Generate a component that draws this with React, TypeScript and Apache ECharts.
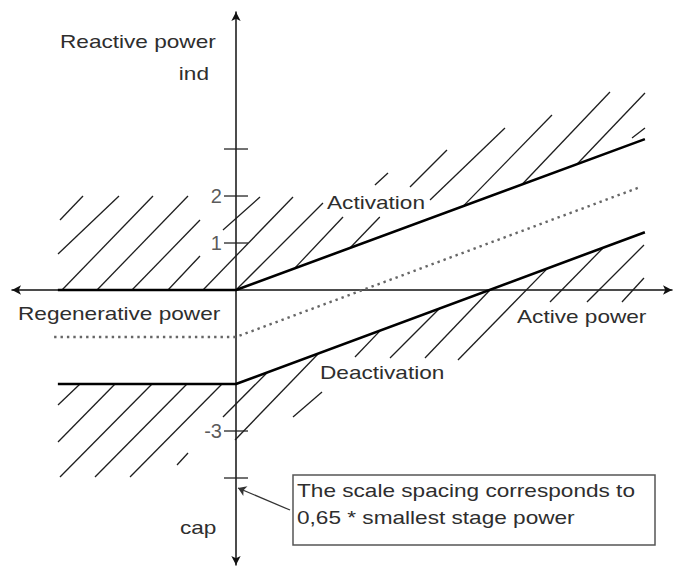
import React, { useEffect, useRef } from "react";
import * as echarts from "echarts";

// Axis ranges (units of the scale spacing)
const xRange = [-4.766, 9.277];
const yRange = [-5.851, 5.915];

// Axis tick marks on the reactive-power axis and their labels
const tickValues = [3, 2, 1, -3, -4];
const tickLabels = ["", "2", "1", "-3", ""];

// Switching characteristics
const activationLine = [[-3.79, 0], [0, 0], [8.7, 3.21]];
const midLine = [[-3.87, -1], [0, -1], [8.6, 2.19]];
const deactivationLine = [[-3.79, -2], [0, -2], [8.7, 1.23]];

// Hatching segments [x1, y1, x2, y2]
const hatchUpper = [
  [-3.745, 1.489, -3.255, 2.0],
  [-3.787, 0.766, -2.489, 2.0],
  [-3.702, 0, -1.766, 2.0],
  [-2.957, 0, -1.021, 2.0],
  [-2.213, 0, -0.766, 1.489],
  [-1.447, 0, -0.766, 0.723],
  [-0.702, 0, 1.213, 1.979],
  [-0.277, 1.277, 0.511, 1.979],
  [0.021, 0.02, 1.851, 1.851],
  [1.255, 0.47, 2.277, 1.553],
  [2.43, 0.9, 3.06, 1.553],
  [2.957, 2.234, 3.234, 2.489],
  [3.702, 2.191, 4.489, 2.979],
  [4.128, 1.915, 5.723, 3.447],
  [4.83, 1.78, 6.723, 3.723],
  [6.085, 2.245, 7.957, 4.213],
  [7.255, 2.677, 8.702, 4.191],
  [8.426, 3.234, 8.702, 3.447],
];
const hatchLower = [
  [-3.787, -2.447, -3.319, -2.0],
  [-3.787, -3.234, -2.574, -2.0],
  [-3.745, -3.979, -1.787, -2.0],
  [-3.0, -3.979, -1.043, -2.0],
  [-2.255, -3.979, -0.298, -2.0],
  [-1.255, -3.723, -1.021, -3.468],
  [-0.277, -2.702, 0.66, -1.76],
  [-0.021, -3.191, 1.745, -1.36],
  [1.213, -2.702, 1.83, -2.17],
  [2.532, -1.426, 3.064, -0.87],
  [3.277, -1.447, 4.34, -0.383],
  [4.021, -1.447, 5.404, 0],
  [4.723, -1.489, 6.617, 0.45],
  [6.681, -0.255, 7.809, 0.894],
  [7.468, -0.255, 8.681, 0.957],
  [8.213, -0.255, 8.681, 0.255],
];

// Pointer from the note box to the axis tick
const notePointer = [[1.149, -4.681], [0.043, -4.213]];

const FONT = "'Liberation Sans', Arial, sans-serif";
const TXT = "#2e2e2e";
const SX = 1.19;

export default function App() {
  const ref = useRef<HTMLDivElement>(null);
  useEffect(() => {
    if (!ref.current) return;
    const chart = echarts.init(ref.current, undefined, { renderer: "svg" });
    const txt = (text: string, x: number, y: number, align = "left", size = 19) => ({
      type: "text",
      x,
      y,
      scaleX: SX,
      style: { text, fontSize: size, fontFamily: FONT, fill: TXT, align, verticalAlign: "middle" },
    });
    const hatchData = [...hatchUpper, ...hatchLower].map((s) => ({
      coords: [[s[0], s[1]], [s[2], s[3]]],
    }));
    chart.setOption({
      animation: false,
      backgroundColor: "#ffffff",
      grid: { left: 12, top: 12, width: 660, height: 553, containLabel: false },
      xAxis: {
        type: "value",
        min: xRange[0],
        max: xRange[1],
        axisLine: {
          onZero: true,
          lineStyle: { color: "#111", width: 1.5 },
          symbol: ["arrow", "arrow"],
          symbolSize: [7, 9],
        },
        axisTick: { show: false },
        axisLabel: { show: false },
        splitLine: { show: false },
      },
      yAxis: {
        type: "value",
        min: yRange[0],
        max: yRange[1],
        axisLine: {
          onZero: true,
          lineStyle: { color: "#111", width: 1.5 },
          symbol: ["arrow", "arrow"],
          symbolSize: [7, 9],
        },
        axisTick: { show: false },
        axisLabel: { show: false },
        splitLine: { show: false },
      },
      series: [
        {
          type: "lines",
          coordinateSystem: "cartesian2d",
          silent: true,
          lineStyle: { color: "#1e1e1e", width: 1.3, opacity: 1 },
          data: hatchData,
        },
        {
          type: "line",
          data: activationLine,
          showSymbol: false,
          lineStyle: { color: "#000", width: 2.6 },
          z: 5,
        },
        {
          type: "line",
          data: midLine,
          showSymbol: false,
          lineStyle: { color: "#666", width: 2.4, type: [2.4, 4] },
          z: 5,
        },
        {
          type: "line",
          data: deactivationLine,
          showSymbol: false,
          lineStyle: { color: "#000", width: 2.6 },
          z: 5,
        },
        {
          type: "scatter",
          data: tickValues.map((v, i) => ({
            value: [0, v],
            label: {
              show: tickLabels[i] !== "",
              formatter: tickLabels[i],
              position: "left",
              distance: 2,
              fontSize: 20,
              fontFamily: FONT,
              color: TXT,
            },
          })),
          symbol: "rect",
          symbolSize: [24, 1.6],
          itemStyle: { color: "#222" },
          z: 6,
        },
        {
          type: "lines",
          coordinateSystem: "cartesian2d",
          silent: true,
          symbol: ["none", "arrow"],
          symbolSize: 8,
          lineStyle: { color: "#333", width: 1.3, opacity: 1 },
          data: [{ coords: notePointer }],
          z: 6,
        },
      ],
      graphic: [
        txt("Reactive power", 60, 41),
        txt("ind", 209, 73, "right"),
        txt("Activation", 327, 202),
        txt("Regenerative power", 18, 313),
        txt("Active power", 517, 316),
        txt("Deactivation", 320, 372),
        txt("cap", 180, 527),
        {
          type: "rect",
          shape: { x: 293, y: 475, width: 362, height: 70 },
          style: { fill: "#fff", stroke: "#555", lineWidth: 1.5 },
        },
        txt("The scale spacing corresponds to", 297, 490),
        txt("0,65 * smallest stage power", 297, 517),
      ],
    });
    return () => chart.dispose();
  }, []);
  return (
    <div
      ref={ref}
      style={{ position: "absolute", left: 0, top: 0, width: 676, height: 567 }}
    />
  );
}
